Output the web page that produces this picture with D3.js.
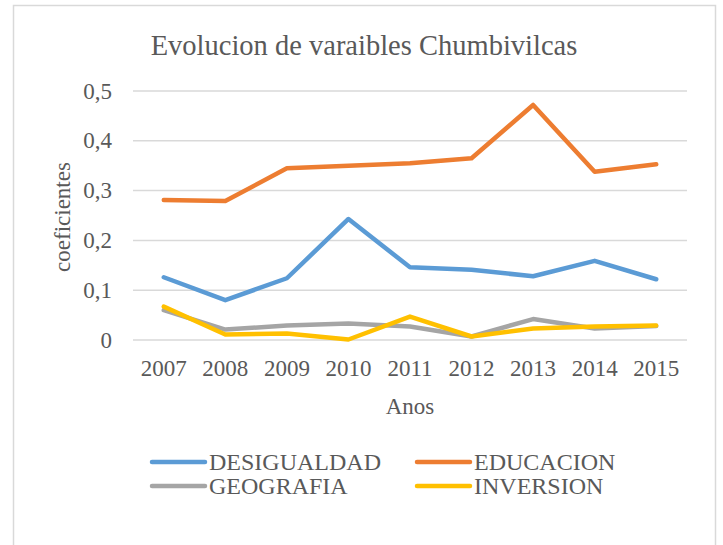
<!DOCTYPE html>
<html>
<head>
<meta charset="utf-8">
<script src="https://cdn.jsdelivr.net/npm/d3@7"></script>
<style>
  body { margin: 0; background: #fff; }
  svg text { font-family: "Liberation Serif", "Times New Roman", serif; fill: #595959; }
</style>
</head>
<body>
<svg id="chart"></svg>
<script>
// values
var years = ['2007', '2008', '2009', '2010', '2011', '2012', '2013', '2014', '2015'];
var desigualdad = [0.126, 0.080, 0.124, 0.243, 0.146, 0.141, 0.128, 0.159, 0.122];
var educacion = [0.281, 0.279, 0.345, 0.350, 0.355, 0.365, 0.472, 0.338, 0.353];
var geografia = [0.060, 0.021, 0.029, 0.033, 0.027, 0.007, 0.042, 0.023, 0.028];
var inversion = [0.067, 0.011, 0.013, 0.001, 0.047, 0.007, 0.023, 0.027, 0.029];
var yTicks = [0, 0.1, 0.2, 0.3, 0.4, 0.5];

var series = [
  {name: 'DESIGUALDAD', values: desigualdad, color: '#5B9BD5'},
  {name: 'EDUCACION', values: educacion, color: '#ED7D31'},
  {name: 'GEOGRAFIA', values: geografia, color: '#A5A5A5'},
  {name: 'INVERSION', values: inversion, color: '#FFC000'}
];

var width = 723, height = 545;
var plot = {left: 133, right: 687, top: 91, bottom: 340};

var svg = d3.select('#chart')
    .attr('width', width)
    .attr('height', height);

// chart frame
svg.append('rect')
    .attr('x', 13.5).attr('y', 5.5)
    .attr('width', 702).attr('height', 560)
    .attr('fill', '#fff')
    .attr('stroke', '#D9D9D9')
    .attr('stroke-width', 1.5);

var x = d3.scaleBand()
    .domain(years)
    .range([plot.left, plot.right]);

var y = d3.scaleLinear()
    .domain([0, 0.5])
    .range([plot.bottom, plot.top]);

// gridlines
svg.append('g')
  .selectAll('line')
  .data(yTicks)
  .enter().append('line')
    .attr('x1', plot.left).attr('x2', plot.right)
    .attr('y1', function(d) { return y(d); })
    .attr('y2', function(d) { return y(d); })
    .attr('stroke', '#D9D9D9')
    .attr('stroke-width', 1.5);

// y tick labels
svg.append('g')
  .selectAll('text')
  .data(yTicks)
  .enter().append('text')
    .attr('x', 112)
    .attr('y', function(d) { return y(d); })
    .attr('dy', '.33em')
    .attr('text-anchor', 'end')
    .style('font-size', '23px')
    .text(function(d) { return d === 0 ? '0' : d3.format('.1f')(d).replace('.', ','); });

// x tick labels
svg.append('g')
  .selectAll('text')
  .data(years)
  .enter().append('text')
    .attr('x', function(d) { return x(d) + x.bandwidth() / 2; })
    .attr('y', 376)
    .attr('text-anchor', 'middle')
    .style('font-size', '23px')
    .text(function(d) { return d; });

// title and axis titles
svg.append('text')
    .attr('x', 364).attr('y', 55)
    .attr('text-anchor', 'middle')
    .style('font-size', '28.5px')
    .text('Evolucion de varaibles Chumbivilcas');

svg.append('text')
    .attr('transform', 'translate(70,217) rotate(-90)')
    .attr('text-anchor', 'middle')
    .style('font-size', '23px')
    .text('coeficientes');

svg.append('text')
    .attr('x', 410).attr('y', 414)
    .attr('text-anchor', 'middle')
    .style('font-size', '23px')
    .text('Anos');

// lines
var line = d3.line()
    .x(function(d, i) { return x(years[i]) + x.bandwidth() / 2; })
    .y(function(d) { return y(d); });

svg.append('g')
  .selectAll('path')
  .data(series)
  .enter().append('path')
    .attr('d', function(d) { return line(d.values); })
    .attr('fill', 'none')
    .attr('stroke', function(d) { return d.color; })
    .attr('stroke-width', 4.5)
    .attr('stroke-linejoin', 'round')
    .attr('stroke-linecap', 'round');

// legend
var legend = svg.append('g').attr('class', 'legend');
series.forEach(function(s, i) {
  var lx = i % 2 === 0 ? 152 : 417;
  var ly = i < 2 ? 462 : 486;
  legend.append('line')
    .attr('x1', lx).attr('x2', lx + 53)
    .attr('y1', ly).attr('y2', ly)
    .attr('stroke', s.color)
    .attr('stroke-width', 4.5)
    .attr('stroke-linecap', 'round');
  legend.append('text')
    .attr('x', lx + 57)
    .attr('y', ly + 8)
    .style('font-size', '24px')
    .text(s.name);
});
</script>
</body>
</html>
